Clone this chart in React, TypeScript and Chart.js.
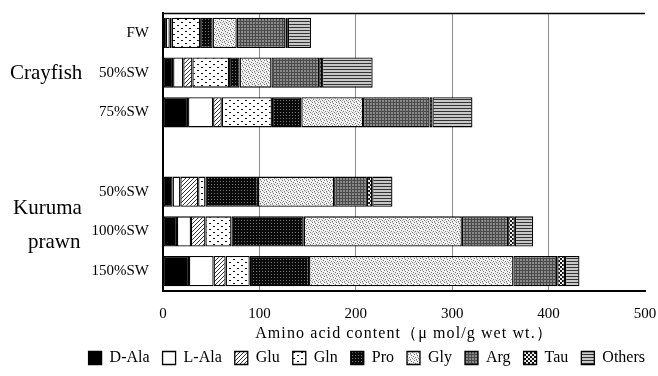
import React, { useEffect, useRef } from "react";
import { Chart, registerables } from "chart.js";

Chart.register(...registerables);

// ---------- data ----------
const rowLabels = ["FW", "50%SW", "75%SW", "", "50%SW", "100%SW", "150%SW"];
const seriesNames = ["D-Ala", "L-Ala", "Glu", "Gln", "Pro", "Gly", "Arg", "Tau", "Others"];

const dAla = [3, 10.5, 26, null, 10, 14.5, 27];
const lAla = [4, 10.5, 26, null, 8, 14.5, 25.5];
const glu = [2, 9.5, 9, null, 18.5, 15, 12.5];
const gln = [29.5, 38, 52, null, 7.5, 27, 25];
const pro = [13, 11, 30.5, null, 54.5, 75, 61.5];
const gly = [25, 33, 64, null, 79, 164, 212];
const arg = [50.5, 49.5, 69, null, 34, 48, 45.5];
const tau = [2.5, 3, 3, null, 5.5, 7, 8];
const others = [24, 52.5, 41.5, null, 21, 19, 15];

const seriesValues = [dAla, lAla, glu, gln, pro, gly, arg, tau, others];

const xMin = 0;
const xMax = 500;
const xStep = 100;

const xTitle = "Amino acid content（μ mol/g wet wt.）";
const groupCrayfish = ["Crayfish"];
const groupKuruma = ["Kuruma", "prawn"];

const FONT = "'Liberation Serif', 'Times New Roman', serif";

// ---------- patterns (style only) ----------
function makePattern(w: number, h: number, draw: (c: CanvasRenderingContext2D) => void) {
  const cv = document.createElement("canvas");
  cv.width = w;
  cv.height = h;
  const c = cv.getContext("2d")!;
  draw(c);
  return c.createPattern(cv, "repeat")!;
}

function px(c: CanvasRenderingContext2D, color: string, pts: number[][]) {
  c.fillStyle = color;
  pts.forEach(([x, y]) => c.fillRect(x, y, 1, 1));
}

function buildFills(): (string | CanvasPattern)[] {
  const hatch = makePattern(4, 4, (c) => {
    c.fillStyle = "#fff";
    c.fillRect(0, 0, 4, 4);
    px(c, "#333", [[3, 0], [2, 1], [1, 2], [0, 3]]);
  });
  const dots = makePattern(8, 6, (c) => {
    c.fillStyle = "#fff";
    c.fillRect(0, 0, 8, 6);
    c.fillStyle = "#111";
    c.fillRect(1, 1, 2, 1);
    c.fillRect(5, 4, 2, 1);
  });
  const dark = makePattern(3, 3, (c) => {
    c.fillStyle = "#0a0a0a";
    c.fillRect(0, 0, 3, 3);
    px(c, "#777", [[1, 1]]);
  });
  const stipple = makePattern(6, 6, (c) => {
    c.fillStyle = "#f2f2f2";
    c.fillRect(0, 0, 6, 6);
    px(c, "#777", [[0, 0], [3, 1], [5, 2], [1, 3], [4, 4], [2, 5]]);
    px(c, "#bbb", [[2, 0], [5, 5], [0, 4], [3, 3]]);
  });
  const mesh = makePattern(3, 3, (c) => {
    c.fillStyle = "#8a8a8a";
    c.fillRect(0, 0, 3, 3);
    c.fillStyle = "#4a4a4a";
    c.fillRect(0, 0, 3, 1);
    c.fillRect(0, 0, 1, 3);
  });
  const checker = makePattern(4, 4, (c) => {
    c.fillStyle = "#151515";
    c.fillRect(0, 0, 4, 4);
    c.fillStyle = "#eee";
    c.fillRect(0, 0, 2, 2);
    c.fillRect(2, 2, 2, 2);
  });
  const stripes = makePattern(3, 3, (c) => {
    c.fillStyle = "#c8c8c8";
    c.fillRect(0, 0, 3, 3);
    c.fillStyle = "#333";
    c.fillRect(0, 0, 3, 1);
  });
  return ["#000", "#fff", hatch, dots, dark, stipple, mesh, checker, stripes];
}

const extrasPlugin = {
  id: "extras",
  afterDraw(chart: any) {
    const { ctx, chartArea } = chart;
    ctx.save();
    // top frame line
    ctx.strokeStyle = "#000";
    ctx.lineWidth = 1.5;
    ctx.beginPath();
    ctx.moveTo(chartArea.left, chartArea.top + 0.5);
    ctx.lineTo(chartArea.right, chartArea.top + 0.5);
    ctx.stroke();
    // axis title
    ctx.fillStyle = "#000";
    ctx.textBaseline = "middle";
    ctx.textAlign = "center";
    ctx.font = `16px ${FONT}`;
    try {
      (ctx as any).letterSpacing = "1.1px";
    } catch (e) {}
    ctx.fillText(xTitle, (chartArea.left + chartArea.right) / 2, chartArea.bottom + 43);
    try {
      (ctx as any).letterSpacing = "0px";
    } catch (e) {}
    // group labels
    const y = chart.scales.y;
    ctx.font = `21px ${FONT}`;
    ctx.textAlign = "left";
    const cy1 = y.getPixelForValue(1);
    ctx.fillText(groupCrayfish[0], 10, cy1 + 1);
    const cy2 = (y.getPixelForValue(4) + y.getPixelForValue(5)) / 2;
    ctx.fillText(groupKuruma[0], 13, cy2 - 3);
    ctx.fillText(groupKuruma[1], 28, cy2 + 31);
    ctx.restore();
  },
};

export default function App() {
  const ref = useRef<HTMLCanvasElement>(null);

  useEffect(() => {
    const fills = buildFills();
    const chart = new Chart(ref.current!, {
      type: "bar",
      data: {
        labels: rowLabels,
        datasets: seriesNames.map((name, i) => ({
          label: name,
          data: seriesValues[i] as any,
          backgroundColor: fills[i] as any,
          borderColor: "#000",
          borderWidth: 1.3,
          borderSkipped: false,
          categoryPercentage: 1,
          barPercentage: 0.76,
        })),
      },
      options: {
        indexAxis: "y",
        responsive: false,
        animation: false,
        devicePixelRatio: 1,
        layout: { padding: { top: 13, right: 0, left: 0, bottom: 0 } },
        scales: {
          x: {
            stacked: true,
            min: xMin,
            max: xMax,
            ticks: {
              stepSize: xStep,
              color: "#000",
              font: { family: FONT, size: 15 },
              padding: 14,
            },
            grid: {
              drawTicks: false,
              color: (ctx: any) =>
                ctx.tick && (ctx.tick.value === xMin || ctx.tick.value === xMax) ? "rgba(0,0,0,0)" : "#8c8c8c",
              lineWidth: 1,
            },
            border: { display: true, color: "#000", width: 2 },
            afterFit: (s: any) => {
              s.height = 46;
              s.paddingLeft = 0;
              s.paddingRight = 13;
            },
          },
          y: {
            stacked: true,
            ticks: {
              color: "#000",
              font: { family: FONT, size: 15 },
              padding: 14,
            },
            grid: { display: false, drawTicks: false },
            border: { display: true, color: "#000", width: 2 },
            afterFit: (s: any) => {
              s.width = 163;
              s.paddingTop = 0;
              s.paddingBottom = 0;
            },
          },
        },
        plugins: {
          legend: {
            display: true,
            position: "bottom",
            align: "end",
            labels: {
              color: "#000",
              font: { family: FONT, size: 16 },
              boxWidth: 13,
              boxHeight: 13,
              padding: 13,
            },
          },
          tooltip: { enabled: false },
        },
      },
      plugins: [extrasPlugin],
    });
    return () => chart.destroy();
  }, []);

  return (
    <div style={{ position: "fixed", left: 0, top: 0, width: 658, height: 376, background: "#fff" }}>
      <canvas ref={ref} width={658} height={376} style={{ display: "block" }} />
    </div>
  );
}
